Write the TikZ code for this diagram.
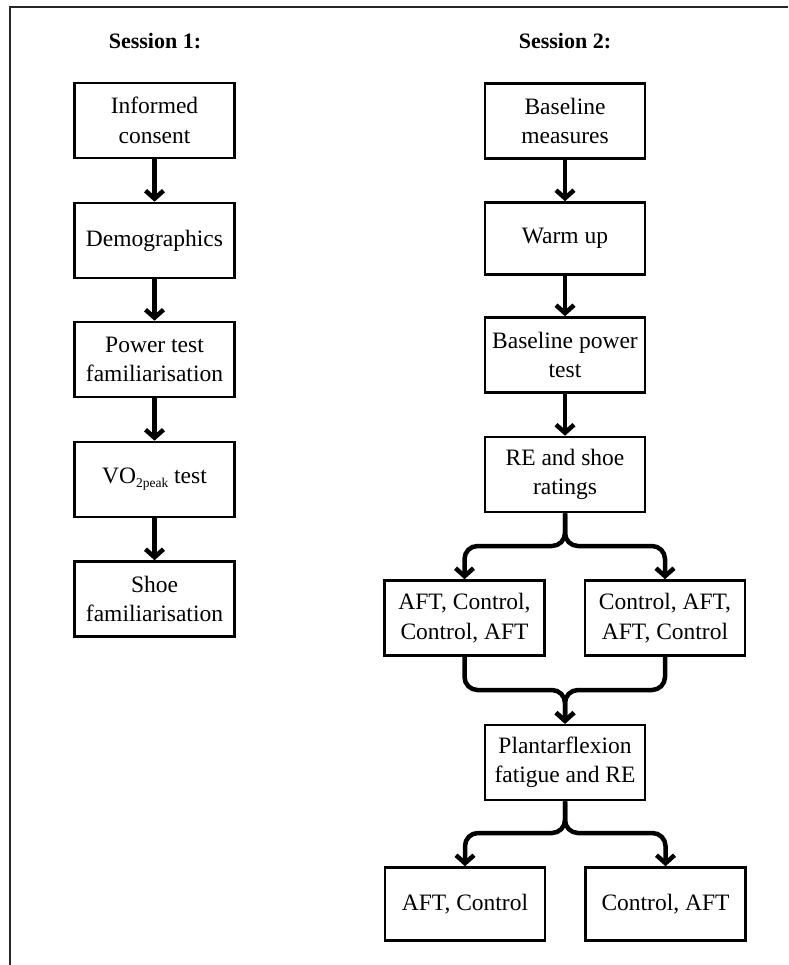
\documentclass[tikz,border=0pt]{standalone}
\usepackage{fontspec}
\setmainfont{Liberation Serif}
\usetikzlibrary{arrows.meta}
\begin{document}
\begin{tikzpicture}[x=1pt,y=-1pt,
  box/.style={draw=black, line width=2.6pt, inner sep=0pt, align=center,
    font=\fontsize{23.5}{29.5}\selectfont, minimum width=160pt, minimum height=75pt},
  conn/.style={line width=4.5pt, -{Straight Barb[length=8pt,width=18pt]}, rounded corners=13pt},
  titletext/.style={font=\bfseries\fontsize{22}{26}\selectfont},
  frameline/.style={line width=2pt, draw=black!85}]
\useasboundingbox (0,0) rectangle (788,965);
% frame
\coordinate (fa) at (788,7);
\coordinate (fb) at (10,7);
\coordinate (fc) at (10,965);
\draw[frameline] (fa) -- (fb) -- (fc);
% titles
\node[titletext] (t1) at (155,41) {Session 1:};
\node[titletext] (t2) at (565,41) {Session 2:};
% session 1
\node[box] (ic) at (154.5,120.5) {Informed\\consent};
\node[box] (demo) at (154.5,240.5) {Demographics};
\node[box] (pow) at (154.5,359.5) {Power test\\familiarisation};
\node[box] (vo) at (154.5,479.5) {VO\raisebox{-4pt}{\fontsize{13.5}{14}\selectfont 2peak} test};
\node[box] (shoe) at (154.5,599) {Shoe\\familiarisation};
\draw[conn] (ic) -- (demo);
\draw[conn] (demo) -- (pow);
\draw[conn] (pow) -- (vo);
\draw[conn] (vo) -- (shoe);
% session 2
\node[box] (bm) at (565,121) {Baseline\\measures};
\node[box, minimum height=72pt] (wu) at (565,238.5) {Warm up};
\node[box] (bpt) at (565,355) {Baseline power\\test};
\node[box] (re) at (565,474.5) {RE and shoe\\ratings};
\node[box] (ca) at (464.5,618) {AFT, Control,\\Control, AFT};
\node[box] (cb) at (665,618) {Control, AFT,\\AFT, Control};
\node[box] (pf) at (565,762.5) {Plantarflexion\\fatigue and RE};
\node[box, minimum height=73pt] (da) at (465,904) {AFT, Control};
\node[box, minimum height=73pt] (db) at (665.5,904) {Control, AFT};
\draw[conn] (bm) -- (wu);
\draw[conn] (wu) -- (bpt);
\draw[conn] (bpt) -- (re);
\coordinate (s1) at (565,546);
\draw[conn] (re.south) -- (s1) -| (ca.north);
\draw[conn] (re.south) -- (s1) -| (cb.north);
\coordinate (m1) at (565,690);
\draw[conn] (ca.south) |- (m1) -- (pf.north);
\draw[conn] (cb.south) |- (m1) -- (pf.north);
\coordinate (s2) at (565,833);
\draw[conn] (pf.south) -- (s2) -| (da.north);
\draw[conn] (pf.south) -- (s2) -| (db.north);
\end{tikzpicture}
\end{document}
